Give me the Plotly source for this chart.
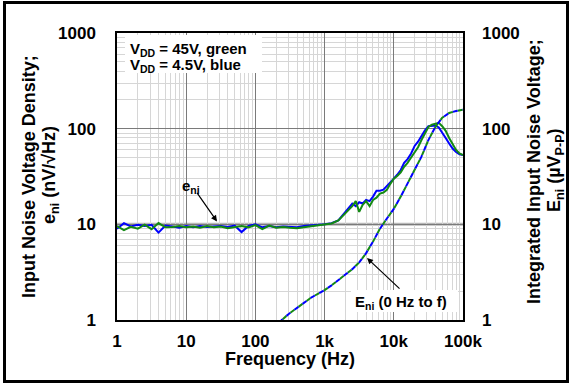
import plotly.graph_objects as go

# ---- data ----
f_eni = [1, 1.26, 1.58, 2, 2.51, 3.16, 3.98, 5.01, 6.31, 7.94,
         10, 12.6, 15.8, 20, 25.1, 31.6, 39.8, 50.1, 63.1, 79.4,
         100, 126, 158, 200, 251, 316, 398, 501, 631, 794,
         1000, 1260, 1580, 2000, 2510, 2820, 3160, 3550, 3980, 4470,
         5010, 5620, 6310, 7080, 7940, 8910, 10000, 11200, 12600, 14100,
         15800, 17800, 20000, 22400, 25100, 28200, 31600, 35500, 39800, 44700,
         50100, 56200, 63100, 70800, 79400, 89100, 100000]

eni_blue = [9.0, 10.3, 9.5, 9.9, 9.6, 9.9, 8.2, 9.7, 9.5, 9.2,
            9.6, 9.3, 9.6, 9.4, 9.5, 9.6, 9.4, 9.7, 8.3, 9.6,
            10.0, 9.3, 9.6, 9.3, 9.5, 9.4, 9.3, 9.6, 9.7, 9.9,
            10.0, 10.3, 11.0, 13.5, 16.5, 15.5, 17.0, 16.5, 18.0, 17.5,
            19.5, 22.5, 22.5, 23.0, 25.0, 27.5, 30.0, 33.0, 37.0, 44.0,
            48.0, 55.0, 66.0, 73.0, 84.0, 96.0, 106, 108, 108, 103,
            92, 80, 70, 62, 57, 54, 53]

eni_green = [9.6, 8.7, 9.4, 9.0, 9.9, 8.9, 10.3, 9.3, 9.4, 9.6,
             9.3, 9.5, 9.2, 9.6, 9.3, 9.5, 9.1, 9.4, 9.6, 9.3,
             9.8, 8.9, 9.7, 9.2, 9.4, 9.2, 9.1, 9.3, 9.5, 9.7,
             9.9, 10.2, 11.0, 13.0, 15.5, 17.5, 13.5, 16.0, 17.5, 15.5,
             18.0, 19.0, 21.0, 21.5, 23.0, 26.5, 30.0, 32.0, 35.0, 40.0,
             44.0, 50.0, 56.0, 64.0, 76.0, 90.0, 104, 110, 112, 115,
             106, 95, 80, 69, 60, 55, 53]

f_Eni = [200, 240, 300, 400, 500, 630, 800, 1000, 1260, 1580,
         2000, 2510, 3160, 3980, 5010, 6310, 7940, 10000, 12600, 15800,
         20000, 25100, 31600, 39800, 50100, 63100, 79400, 100000]
Eni_blue = [0.85, 1.0, 1.15, 1.35, 1.5, 1.7, 1.88, 2.05, 2.3, 2.6,
            2.95, 3.4, 4.0, 5.0, 6.6, 9.0, 11.5, 14.5, 19.5, 27,
            37, 51, 76, 104, 130, 146, 153, 158]
Eni_green = [0.85, 1.0, 1.15, 1.35, 1.5, 1.7, 1.88, 2.05, 2.3, 2.6,
             2.95, 3.4, 4.0, 5.0, 6.6, 9.0, 11.5, 14.5, 19.5, 27,
             37, 51, 76, 104, 130, 146, 153, 158]

x_tickvals = [1, 10, 100, 1000, 10000, 100000]
x_ticktext = ["1", "10", "100", "1k", "10k", "100k"]
y_tickvals = [1, 10, 100, 1000]
y_ticktext = ["1", "10", "100", "1000"]

BLUE = "#0000ff"
GREEN = "#138a13"
FONT = "Liberation Sans, Arial, sans-serif"

fig = go.Figure()
fig.add_trace(go.Scatter(x=f_Eni, y=Eni_green, mode="lines", yaxis="y2",
                         line=dict(color=GREEN, width=2, dash="5px,5px"), showlegend=False))
fig.add_trace(go.Scatter(x=f_Eni, y=Eni_blue, mode="lines", yaxis="y2",
                         line=dict(color=BLUE, width=2, dash="0px,5px,5px,0px"), showlegend=False))
fig.add_trace(go.Scatter(x=f_eni, y=eni_blue, mode="lines",
                         line=dict(color=BLUE, width=2), showlegend=False))
fig.add_trace(go.Scatter(x=f_eni, y=eni_green, mode="lines",
                         line=dict(color=GREEN, width=2), showlegend=False))

L, R, T, B = 117, 463, 33, 320
PW, PH = R - L, B - T

def px(xp):
    return (xp - L) / PW

def py(yp):
    return (B - yp) / PH

axis_common = dict(
    type="log", showline=True, linecolor="black", linewidth=1.5, mirror=True,
    showgrid=True, gridcolor="#7a7a7a", gridwidth=1, zeroline=False,
    minor=dict(showgrid=True, gridcolor="#d6d6d6", gridwidth=1, dtick="D1"),
    tickfont=dict(family=FONT, size=17, color="black"), ticks="",
)

fig.update_layout(
    width=571, height=384,
    margin=dict(l=L, r=571 - R, t=T, b=384 - B, autoexpand=False),
    paper_bgcolor="white", plot_bgcolor="white",
    font=dict(family=FONT, color="black"),
    xaxis=dict(axis_common, range=[0, 5], tickvals=x_tickvals,
               ticktext=["<b>%s</b>" % t for t in x_ticktext], ticklabelstandoff=5),
    yaxis=dict(axis_common, range=[0, 3], tickvals=y_tickvals,
               ticktext=["<b>%s</b>" % t for t in y_ticktext], ticklabelstandoff=16),
    yaxis2=dict(type="log", range=[0, 3], overlaying="y", side="right",
                showgrid=False, zeroline=False, showline=False, ticks="",
                tickvals=y_tickvals, ticktext=["<b>%s</b>" % t for t in y_ticktext],
                tickfont=dict(family=FONT, size=17, color="black"), ticklabelstandoff=18),
)

shapes = [
    dict(type="line", xref="paper", yref="y", x0=0, x1=1, y0=10, y1=10,
         line=dict(color="#b8b8b8", width=3), layer="below"),
    dict(type="rect", xref="paper", yref="paper", x0=px(125), x1=px(262), y0=py(73), y1=py(35),
         fillcolor="white", line=dict(width=0), layer="above"),
    dict(type="rect", xref="paper", yref="paper", x0=px(351), x1=px(458), y0=py(312), y1=py(290),
         fillcolor="white", line=dict(width=0), layer="above"),
    dict(type="rect", xref="paper", yref="paper", x0=px(4.5), x1=px(567.5), y0=py(381.5), y1=py(2.5),
         line=dict(color="black", width=3), fillcolor="rgba(0,0,0,0)", layer="above"),
]
fig.update_layout(shapes=shapes)

def txt(x, y, text, size, xanchor="left", angle=0):
    return dict(xref="paper", yref="paper", x=px(x), y=py(y), xanchor=xanchor, yanchor="middle",
                text=text, showarrow=False, textangle=angle, font=dict(size=size))

ann = [
    txt(128, 49, "<b>V<sub>DD</sub> = 45V, green</b>", 15),
    txt(128, 65, "<b>V<sub>DD</sub> = 4.5V, blue</b>", 15),
    txt(191, 186, "<b>e<sub>ni</sub></b>", 15, "center"),
    dict(xref="x", yref="y", x=1.445, y=1.03, ax=-21, ay=-30, text="", showarrow=True,
         arrowhead=2, arrowsize=1, arrowwidth=1.2, arrowcolor="black"),
    txt(353, 302, "<b>E<sub>ni</sub> (0 Hz to f)</b>", 15),
    dict(xref="x", yref="y", x=3.613, y=0.648, ax=34, ay=32, text="", showarrow=True,
         arrowhead=2, arrowsize=1, arrowwidth=1.2, arrowcolor="black"),
    txt(290, 359, "<b>Frequency (Hz)</b>", 18, "center"),
    txt(29, 177, "<b>Input Noise Voltage Density;</b>", 18, "center", -90),
    txt(50, 175, "<b>e<sub>ni</sub> (nV/√Hz)</b>", 18, "center", -90),
    txt(534, 172, "<b>Integrated Input Noise Voltage;</b>", 18, "center", -90),
    txt(555, 170, "<b>E<sub>ni</sub> (µV<sub>P-P</sub>)</b>", 18, "center", -90),
]
fig.update_layout(annotations=ann)

fig.write_html("out.html", config={"displayModeBar": False},
               post_script="document.body.style.margin='0';document.body.style.padding='0';")
